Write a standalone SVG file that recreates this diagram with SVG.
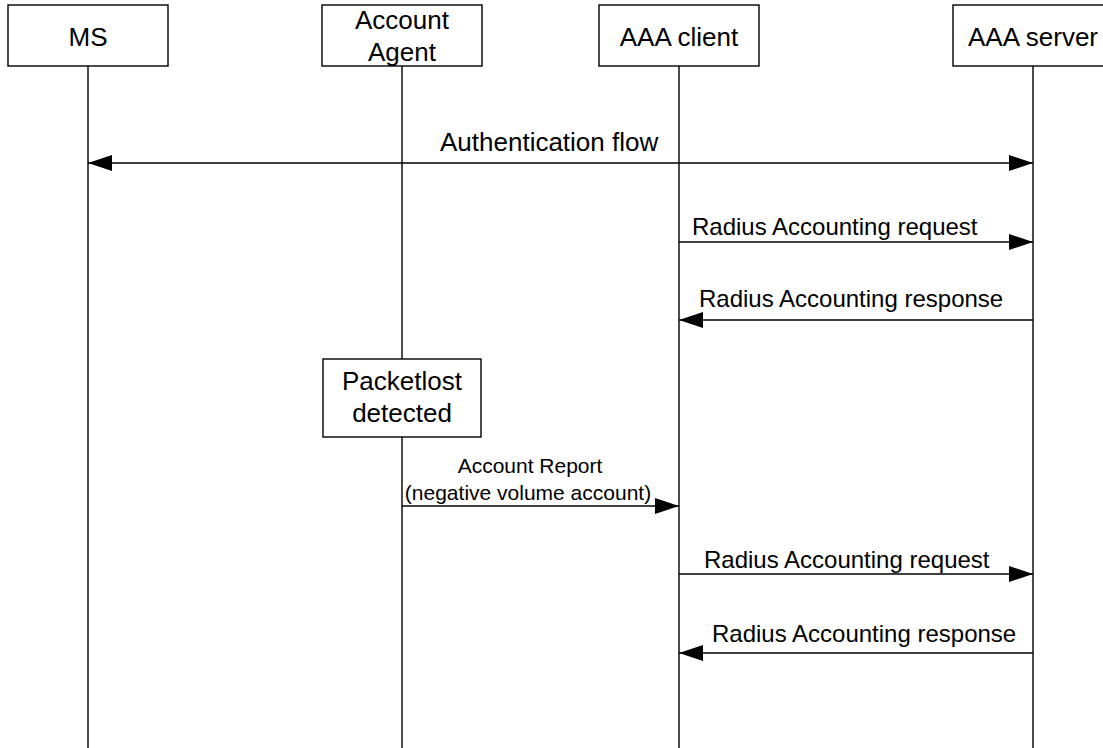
<svg xmlns="http://www.w3.org/2000/svg" width="1103" height="748" viewBox="0 0 1103 748">
<style>
.box{fill:#fff;stroke:#000;stroke-width:1.4}
.life{stroke:#000;stroke-width:1.4;fill:none}
.msg{stroke:#000;stroke-width:1.4;fill:none;marker-end:url(#ah)}
.t26{font-family:"Liberation Sans",Arial,sans-serif;font-size:26px;fill:#000}
.t24{font-family:"Liberation Sans",Arial,sans-serif;font-size:24px;fill:#000}
.t21{font-family:"Liberation Sans",Arial,sans-serif;font-size:21px;fill:#000}
.c{text-anchor:middle}
</style>
<defs>
<marker id="ah" markerUnits="userSpaceOnUse" markerWidth="24" markerHeight="16" refX="24" refY="8" orient="auto-start-reverse" viewBox="0 0 24 16">
<path d="M0,0 L24,8 L0,16 z" fill="#000"/>
</marker>
</defs>
<g id="lifelines">
<line class="life" x1="88" y1="66" x2="88" y2="748"/>
<line class="life" x1="402" y1="66" x2="402" y2="748"/>
<line class="life" x1="679" y1="66" x2="679" y2="748"/>
<line class="life" x1="1033" y1="66" x2="1033" y2="748"/>
</g>
<g id="node-ms">
<rect class="box" x="8" y="5" width="160" height="61"/>
<text class="t26 c" x="88" y="46">MS</text>
</g>
<g id="node-agent">
<rect class="box" x="322" y="5" width="160" height="61"/>
<text class="t26 c" x="402" y="29">Account</text>
<text class="t26 c" x="402" y="61">Agent</text>
</g>
<g id="node-client">
<rect class="box" x="599" y="5" width="160" height="61"/>
<text class="t26 c" x="679" y="46">AAA client</text>
</g>
<g id="node-server">
<rect class="box" x="953" y="5" width="160" height="61"/>
<text class="t26 c" x="1033" y="46">AAA server</text>
</g>
<g id="node-packetlost">
<rect class="box" x="323" y="359" width="158" height="78"/>
<text class="t26 c" x="402" y="390">Packetlost</text>
<text class="t26 c" x="402" y="422">detected</text>
</g>
<g id="connectors">
<line class="msg" x1="88" y1="163" x2="1033" y2="163" marker-start="url(#ah)"/>
<text class="t26" x="440" y="151">Authentication flow</text>
<line class="msg" x1="679" y1="242" x2="1033" y2="242"/>
<text class="t24" x="692" y="235">Radius Accounting request</text>
<line class="msg" x1="1033" y1="320" x2="679" y2="320"/>
<text class="t24" x="699" y="307">Radius Accounting response</text>
<line class="msg" x1="402" y1="506" x2="679" y2="506"/>
<text class="t21 c" x="530" y="473">Account Report</text>
<text class="t21 c" x="528" y="500">(negative volume account)</text>
<line class="msg" x1="679" y1="574" x2="1033" y2="574"/>
<text class="t24" x="704" y="568">Radius Accounting request</text>
<line class="msg" x1="1033" y1="653" x2="679" y2="653"/>
<text class="t24" x="712" y="642">Radius Accounting response</text>
</g>
</svg>
